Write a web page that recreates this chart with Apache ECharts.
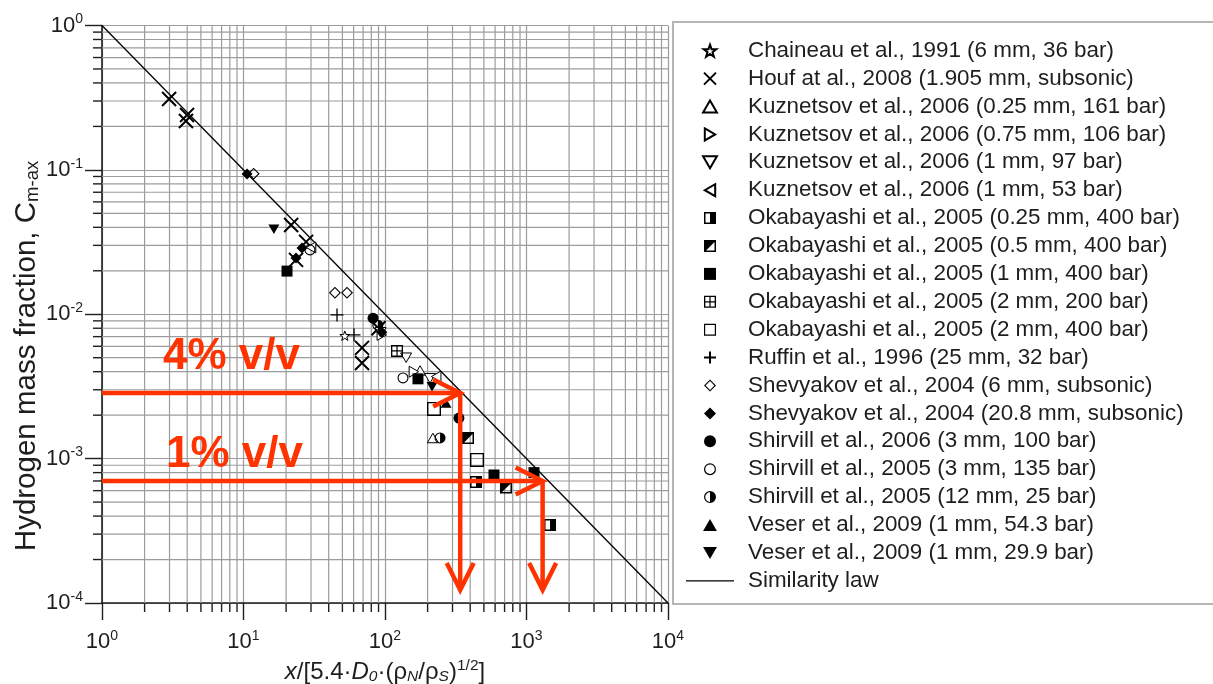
<!DOCTYPE html>
<html>
<head>
<meta charset="utf-8">
<script src="https://cdn.jsdelivr.net/npm/echarts@6/dist/echarts.min.js"></script>
<style>
html,body{margin:0;padding:0;background:#fff;}
#chart{width:1213px;height:684px;}
</style>
</head>
<body>
<div id="chart"></div>
<script>
// ---- measured maximum concentrations: [scaled distance, mass fraction] ----
const chaineau1991 = [[52, 0.0071]];
const houf2008 = [[2.98, 0.31], [3.99, 0.24], [3.92, 0.218], [21.7, 0.0415], [27.7, 0.0317], [23.5, 0.0238], [68.8, 0.00585], [68.8, 0.0046], [90, 0.0080]];
const kuznetsov025 = [[218, 0.00139], [177, 0.00408]];
const kuznetsov075 = [[95, 0.0072], [160, 0.0040]];
const kuznetsov1_97 = [[141, 0.0050], [208, 0.0036], [93, 0.0075]];
const kuznetsov1_53 = [[230, 0.0037], [30, 0.029]];
const okabayashi025 = [[440, 0.00069], [1466, 0.000347]];
const okabayashi05 = [[386, 0.00139], [716, 0.00063]];
const okabayashi1 = [[20.3, 0.0199], [171, 0.00357], [589, 0.00077], [1130, 0.00080]];
const okabayashi2_200 = [[121.6, 0.00557]];
const okabayashi2_400 = [[222, 0.00221], [447, 0.00098]];
const ruffin1996 = [[45.8, 0.0099], [60.4, 0.0072]];
const shevyakov6 = [[11.8, 0.094], [44.3, 0.0141], [53.9, 0.0141]];
const shevyakov208 = [[10.6, 0.0935], [25.9, 0.0288], [23.5, 0.0245], [95, 0.0075]];
const shirvill2006 = [[82.3, 0.0094], [333, 0.00191]];
const shirvill2005_3 = [[134, 0.00362], [29.5, 0.0279]];
const shirvill2005_12 = [[245, 0.00139], [89, 0.0084]];
const veser543 = [[270, 0.00243]];
const veser299 = [[16.4, 0.0388], [215, 0.00314]];

// similarity law C = 1 / x
const similarityLaw = [[1, 1], [10000, 0.0001]];

// flammability limits: [x0, y0, x1, y1]
const limitArrows = [
  [1, 0.00285, 340, 0.00285],
  [340, 0.00285, 340, 0.000123],
  [1, 0.0007, 1300, 0.0007],
  [1300, 0.0007, 1300, 0.000123]
];
const limitLabels = ['4% v/v', '1% v/v'];

// log-axis decades and minor multipliers
const xDecades = [0, 1, 2, 3];
const yDecades = [-4, -3, -2, -1];
const minorSteps = [2, 3, 4, 5, 6, 7, 8, 9];

const FONT = "'Liberation Sans', Arial, Helvetica, sans-serif";
const RED = '#ff3300';
const GRID = '#9c9c9c';
const INK = '#1e1e1e';

// marker shapes
const P = {
  star: 'path://M10 0L12.35 6.76L19.51 6.91L13.8 11.24L15.88 18.09L10 14L4.12 18.09L6.2 11.24L0.49 6.91L7.65 6.76Z',
  cross: 'path://M0 0L20 20M20 0L0 20',
  plus: 'path://M10 0V20M0 10H20',
  triUp: 'path://M10 0L20 17.3L0 17.3Z',
  triRight: 'path://M0 0L17.3 10L0 20Z',
  triDown: 'path://M0 0L20 0L10 17.3Z',
  triLeft: 'path://M17.3 0L17.3 20L0 10Z',
  square: 'path://M0 0H20V20H0Z',
  sqHalf: 'path://M0 0H20V20H0Z M2.5 2.5V17.5H10V2.5Z',
  sqDiag: 'path://M0 0H20V20H0Z M17.5 3.5L3.5 17.5H17.5Z',
  sqGrid: 'path://M0 0H20V20H0Z M2.2 2.2V9H9V2.2Z M11 2.2V9H17.8V2.2Z M2.2 11V17.8H9V11Z M11 11V17.8H17.8V11Z',
  sqOpen: 'path://M0 0H20V20H0Z M2 2V18H18V2Z',
  diamond: 'path://M10 0L20 10L10 20L0 10Z',
  diaOpen: 'path://M10 0L20 10L10 20L0 10Z M10 2.6L2.6 10L10 17.4L17.4 10Z',
  circle: 'path://M10 0A10 10 0 1 1 10 20A10 10 0 1 1 10 0Z',
  cirOpen: 'path://M10 0A10 10 0 1 1 10 20A10 10 0 1 1 10 0Z M10 2A8 8 0 1 0 10 18A8 8 0 1 0 10 2Z',
  cirHalf: 'path://M10 0A10 10 0 1 1 10 20A10 10 0 1 1 10 0Z M10 2A8 8 0 0 0 10 18Z',
  rule: 'path://M0 0H48V1.3H0Z'
};

function pointSeries(name, data, symbol, size, open, stroke) {
  return {
    name: name,
    type: 'scatter',
    data: data,
    symbol: symbol,
    symbolSize: size,
    symbolKeepAspect: true,
    z: 3,
    itemStyle: {
      color: open ? '#ffffff' : '#000000',
      borderColor: '#000000',
      borderWidth: stroke || 0,
      opacity: 1
    }
  };
}

const seriesList = [
  pointSeries('Chaineau et al., 1991 (6 mm, 36 bar)', chaineau1991, P.star, 10, true, 1),
  pointSeries('Houf at al., 2008 (1.905 mm, subsonic)', houf2008, P.cross, 14, false, 2),
  pointSeries('Kuznetsov et al., 2006 (0.25 mm, 161 bar)', kuznetsov025, P.triUp, 11, true, 1),
  pointSeries('Kuznetsov et al., 2006 (0.75 mm, 106 bar)', kuznetsov075, P.triRight, 11, true, 1),
  pointSeries('Kuznetsov et al., 2006 (1 mm, 97 bar)', kuznetsov1_97, P.triDown, 11, true, 1),
  pointSeries('Kuznetsov et al., 2006 (1 mm, 53 bar)', kuznetsov1_53, P.triLeft, 11, true, 1),
  pointSeries('Okabayashi et al., 2005 (0.25 mm, 400 bar)', okabayashi025, P.sqHalf, 12, false, 0),
  pointSeries('Okabayashi et al., 2005 (0.5 mm, 400 bar)', okabayashi05, P.sqDiag, 12, false, 0),
  pointSeries('Okabayashi et al., 2005 (1 mm, 400 bar)', okabayashi1, P.square, 11, false, 0),
  pointSeries('Okabayashi et al., 2005 (2 mm, 200 bar)', okabayashi2_200, P.sqGrid, 12, false, 0),
  pointSeries('Okabayashi et al., 2005 (2 mm, 400 bar)', okabayashi2_400, P.sqOpen, 14, false, 0),
  pointSeries('Ruffin et al., 1996 (25 mm, 32 bar)', ruffin1996, P.plus, 13, false, 1.3),
  pointSeries('Shevyakov et al., 2004 (6 mm, subsonic)', shevyakov6, P.diaOpen, 12, false, 0),
  pointSeries('Shevyakov et al., 2004 (20.8 mm, subsonic)', shevyakov208, P.diamond, 11, false, 0),
  pointSeries('Shirvill et al., 2006 (3 mm, 100 bar)', shirvill2006, P.circle, 11, false, 0),
  pointSeries('Shirvill et al., 2005 (3 mm, 135 bar)', shirvill2005_3, P.cirOpen, 11, false, 0),
  pointSeries('Shirvill et al., 2005 (12 mm, 25 bar)', shirvill2005_12, P.cirHalf, 11, false, 0),
  pointSeries('Veser et al., 2009 (1 mm, 54.3 bar)', veser543, P.triUp, 11, false, 0),
  pointSeries('Veser et al., 2009 (1 mm, 29.9 bar)', veser299, P.triDown, 11, false, 0)
];

const legendData = seriesList.map(s => ({ name: s.name }));
legendData.push({ name: 'Similarity law', icon: P.rule, itemStyle: { color: '#000' } });

seriesList.push({
  name: 'Similarity law',
  type: 'line',
  data: similarityLaw,
  symbol: 'none',
  z: 2,
  lineStyle: { color: '#000', width: 1.3 },
  itemStyle: { color: '#000' }
});

// minor grid lines and minor ticks of both log axes
seriesList.push({
  type: 'custom',
  name: 'minorGrid',
  silent: true,
  clip: false,
  z: 1,
  data: [[1, 1]],
  renderItem: function (params, api) {
    const tl = api.coord([1, 1]);
    const br = api.coord([10000, 0.0001]);
    const kids = [];
    xDecades.forEach(d => minorSteps.forEach(m => {
      const px = api.coord([m * Math.pow(10, d), 1])[0];
      kids.push({ type: 'line', shape: { x1: px, y1: tl[1], x2: px, y2: br[1] }, style: { stroke: GRID, lineWidth: 1.2 } });
      kids.push({ type: 'line', shape: { x1: px, y1: br[1], x2: px, y2: br[1] + 9 }, style: { stroke: INK, lineWidth: 1.4 } });
    }));
    yDecades.forEach(d => minorSteps.forEach(m => {
      const py = api.coord([1, m * Math.pow(10, d)])[1];
      kids.push({ type: 'line', shape: { x1: tl[0], y1: py, x2: br[0], y2: py }, style: { stroke: GRID, lineWidth: 1.2 } });
      kids.push({ type: 'line', shape: { x1: tl[0] - 9, y1: py, x2: tl[0], y2: py }, style: { stroke: INK, lineWidth: 1.4 } });
    }));
    return { type: 'group', children: kids };
  }
});

// red limit arrows
seriesList.push({
  type: 'custom',
  name: 'limits',
  silent: true,
  clip: false,
  z: 5,
  data: limitArrows,
  encode: { x: [0, 2], y: [1, 3] },
  renderItem: function (params, api) {
    const p0 = api.coord([api.value(0), api.value(1)]);
    const p1 = api.coord([api.value(2), api.value(3)]);
    const dx = p1[0] - p0[0], dy = p1[1] - p0[1];
    const len = Math.sqrt(dx * dx + dy * dy);
    const ux = dx / len, uy = dy / len;
    const back = 27, half = 13.5;
    const a1 = [p1[0] - ux * back - uy * half, p1[1] - uy * back + ux * half];
    const a2 = [p1[0] - ux * back + uy * half, p1[1] - uy * back - ux * half];
    const st = { stroke: RED, lineWidth: 4.5, fill: null, lineJoin: 'miter' };
    return {
      type: 'group',
      children: [
        { type: 'polyline', shape: { points: [p0, [p1[0] - ux * 2, p1[1] - uy * 2]] }, style: st },
        { type: 'polyline', shape: { points: [a1, p1, a2] }, style: st }
      ]
    };
  }
});

function powerLabel(v) {
  const e = Math.round(Math.log10(v));
  return '{b|10}{s|' + e + '}';
}
const tickRich = {
  b: { fontSize: 22, fontFamily: FONT, color: INK },
  s: { fontSize: 14, fontFamily: FONT, color: INK, padding: [0, 0, 12, 0] }
};

const chart = echarts.init(document.getElementById('chart'), null, { renderer: 'canvas' });
chart.setOption({
  animation: false,
  backgroundColor: '#ffffff',
  grid: { left: 102, top: 25.5, width: 566, height: 577.5, containLabel: false, outerBoundsMode: 'none' },
  xAxis: {
    type: 'log', logBase: 10, min: 1, max: 10000, splitNumber: 4,
    axisLine: { show: true, lineStyle: { color: INK, width: 1.6 } },
    axisTick: { show: true, inside: false, length: 17, lineStyle: { color: INK, width: 1.4 } },
    axisLabel: { margin: 26, formatter: powerLabel, rich: tickRich },
    splitLine: { show: true, lineStyle: { color: GRID, width: 1.2 } },
    name: '{i|x}{n|/[5.4·}{i|D}{si|0}{n|·(ρ}{si|N}{n|/ρ}{si|S}{n|)}{sp|1/2}{n|]}',
    nameLocation: 'middle',
    nameGap: 43,
    nameTextStyle: {
      rich: {
        n: { fontSize: 24, fontFamily: FONT, color: INK },
        i: { fontSize: 24, fontFamily: FONT, fontStyle: 'italic', color: INK },
        si: { fontSize: 15.5, fontFamily: FONT, fontStyle: 'italic', color: INK, padding: [10, 0, 0, 0] },
        sp: { fontSize: 15.5, fontFamily: FONT, color: INK, padding: [0, 0, 12, 0] }
      }
    }
  },
  yAxis: {
    type: 'log', logBase: 10, min: 0.0001, max: 1, splitNumber: 4,
    axisLine: { show: true, lineStyle: { color: INK, width: 1.6 } },
    axisTick: { show: true, inside: false, length: 17, lineStyle: { color: INK, width: 1.4 } },
    axisLabel: { margin: 19, formatter: powerLabel, rich: tickRich },
    splitLine: { show: true, lineStyle: { color: GRID, width: 1.2 } }
  },
  legend: {
    data: legendData,
    orient: 'vertical',
    left: 686,
    top: 39.7,
    padding: 0,
    itemWidth: 48,
    itemHeight: 12,
    itemGap: 5.9,
    symbolKeepAspect: true,
    selectedMode: false,
    textStyle: { fontSize: 22.4, fontFamily: FONT, color: INK, lineHeight: 22, padding: [0, 0, 0, 9] }
  },
  graphic: [
    {
      type: 'rect', z: -1, silent: true,
      shape: { x: 673, y: 22, width: 560, height: 582 },
      style: { fill: '#fff', stroke: '#b5b5b5', lineWidth: 2 }
    },
    {
      type: 'text', silent: true, x: 27, y: 356, rotation: Math.PI / 2,
      style: {
        text: '{n|Hydrogen mass fraction, C}{s|m-ax}',
        align: 'center', verticalAlign: 'middle',
        rich: {
          n: { fontSize: 29.5, fontFamily: FONT, fill: INK },
          s: { fontSize: 18.5, fontFamily: FONT, fill: INK, padding: [11, 0, 0, 0] }
        }
      }
    },
    {
      type: 'text', silent: true, x: 163, y: 357, z: 10,
      style: { text: limitLabels[0], font: 'bold 44px ' + FONT, fill: RED, verticalAlign: 'middle' }
    },
    {
      type: 'text', silent: true, x: 166, y: 455, z: 10,
      style: { text: limitLabels[1], font: 'bold 44px ' + FONT, fill: RED, verticalAlign: 'middle' }
    }
  ],
  series: seriesList
});
</script>
</body>
</html>
